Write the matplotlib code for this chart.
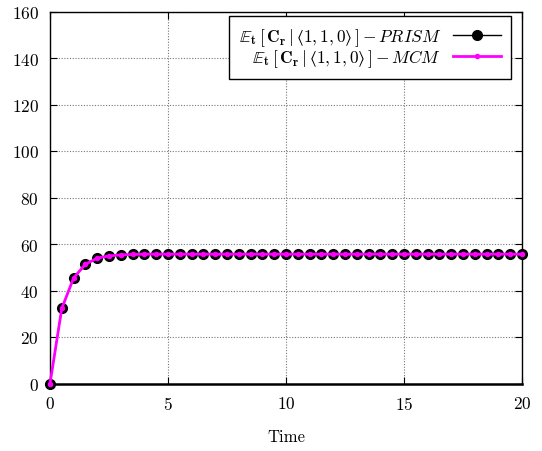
import matplotlib
matplotlib.use("Agg")
import matplotlib.pyplot as plt
import numpy as np

# Data
time = [i * 0.5 for i in range(41)]
prism = [0, 32.3, 45.4, 51.3, 53.9, 54.9, 55.3, 55.5] + [55.6] * 33
mcm = [0, 32.3, 45.4, 51.3, 53.9, 54.9, 55.3, 55.5] + [55.6] * 33
xticks = [0, 5, 10, 15, 20]
yticks = [0, 20, 40, 60, 80, 100, 120, 140, 160]

plt.rcParams['font.family'] = 'serif'
plt.rcParams['font.serif'] = ['cmr10', 'DejaVu Serif']
plt.rcParams['mathtext.fontset'] = 'cm'
plt.rcParams['axes.formatter.use_mathtext'] = True

fig = plt.figure(figsize=(5.42, 4.52), dpi=100)
ax = fig.add_axes([50/542, 1-384.5/452, (522-50)/542, (384.5-12.5)/452])

lab1 = r'$\mathbb{E}_\mathbf{t}\,[\,\mathbf{C_r}\,|\,⟨\mathbf{1},\mathbf{1},\mathbf{0}⟩\,]-\mathit{PRISM}$'
lab2 = r'$\mathbb{E}_\mathbf{t}\,[\,\mathbf{C_r}\,|\,⟨\mathbf{1},\mathbf{1},\mathbf{0}⟩\,]-\mathit{MCM}$'

ax.plot(time, prism, color='black', lw=1.0, marker='o', markersize=7, label=lab1, zorder=3, clip_on=False)
ax.plot(time, mcm, color='#ff00ff', lw=2.0, marker='o', markersize=3, label=lab2, zorder=4, clip_on=False)

ax.set_xlim(0, 20)
ax.set_ylim(0, 160)
ax.set_xticks(xticks)
ax.set_yticks(yticks)
ax.grid(True, color='#777777', linestyle=(0, (1, 1.5)), linewidth=0.8)
ax.set_axisbelow(True)
ax.tick_params(direction='in', top=True, right=True, length=5, labelsize=12.5, pad=8, width=0.8)
for s in ax.spines.values():
    s.set_linewidth(1.0)
ax.spines['bottom'].set_linewidth(1.8)
ax.set_xlabel('Time', fontsize=12, labelpad=12)

leg = ax.legend(loc='upper right', bbox_to_anchor=(0.9767, 0.9871), markerfirst=False, fontsize=12.5,
                frameon=True, fancybox=False, edgecolor='black', framealpha=1, handlelength=2.8,
                borderaxespad=0, labelspacing=0.0, borderpad=0.55, handletextpad=0.66)
leg.get_frame().set_linewidth(1.0)

fig.savefig('out.png', dpi=100)
